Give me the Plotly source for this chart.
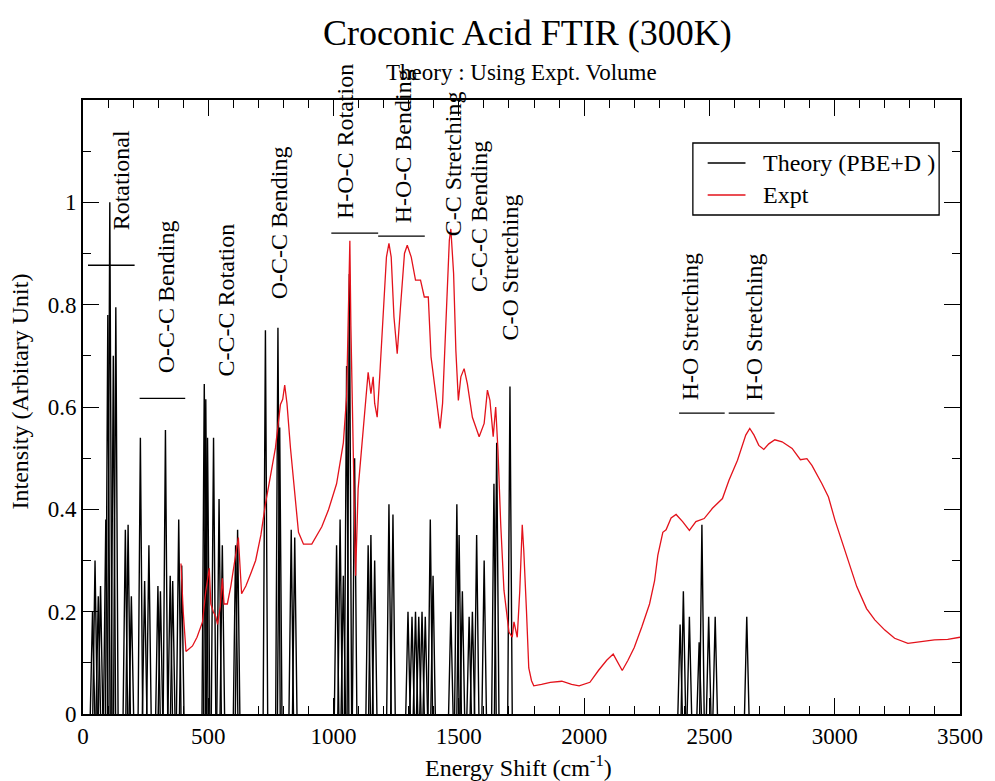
import plotly.graph_objects as go

# ---------------- data ----------------
# Calculated (PBE+D) mode positions (cm^-1) and relative intensities
theory_pos = [38, 48, 61, 70, 91, 99, 107, 121, 131, 169, 180, 193,
              229, 246, 263, 299, 309, 329, 348, 358, 382, 394,
              484, 490, 497, 521, 543, 556, 609, 617,
              728, 778, 785, 831, 845,
              1012, 1026, 1039, 1052, 1063, 1084, 1138, 1149, 1164,
              1221, 1237, 1297, 1313, 1327, 1340, 1353, 1366, 1386, 1397,
              1468, 1492, 1501, 1514, 1541, 1554, 1571, 1601, 1640, 1651, 1704,
              2383, 2396, 2420, 2459, 2470, 2497, 2523, 2649]
theory_int = [0.20, 0.30, 0.23, 0.25, 0.38, 0.78, 1.00, 0.70, 0.795, 0.36, 0.37, 0.23,
              0.54, 0.26, 0.33, 0.25, 0.24, 0.555, 0.27, 0.26, 0.38, 0.29,
              0.645, 0.615, 0.54, 0.54, 0.42, 0.33, 0.33, 0.36,
              0.75, 0.755, 0.56, 0.36, 0.345,
              0.33, 0.38, 0.27, 0.68, 0.86, 0.50, 0.33, 0.35, 0.30,
              0.41, 0.39, 0.20, 0.19, 0.20, 0.19, 0.20, 0.19, 0.38, 0.27,
              0.20, 0.41, 0.35, 0.24, 0.19, 0.20, 0.35, 0.30, 0.45, 0.53, 0.64,
              0.175, 0.24, 0.19, 0.14, 0.37, 0.19, 0.19, 0.19]

# Measured FTIR spectrum
expt_x = [391, 400, 411, 425, 437, 455, 477, 490, 504, 510, 520, 530, 537, 548, 556,
          563, 576, 590, 609, 620, 633, 650, 670, 689, 710, 728, 748, 768, 788, 797,
          805, 814, 828, 841, 860, 880, 913, 953, 979, 1012, 1039, 1052, 1058, 1065,
          1069, 1078, 1088, 1098, 1118, 1138, 1149, 1158, 1164, 1174, 1184, 1197, 1211,
          1221, 1230, 1241, 1254, 1267, 1283, 1294, 1310, 1327, 1347, 1362, 1378, 1389,
          1409, 1425, 1435, 1448, 1462, 1468, 1479, 1488, 1498, 1508, 1521, 1534, 1554,
          1581, 1601, 1614, 1624, 1637, 1647, 1656, 1667, 1680, 1700, 1713, 1720, 1733,
          1743, 1753, 1759, 1770, 1779, 1790, 1799, 1830, 1865, 1911, 1950, 1980, 2023,
          2057, 2090, 2116, 2136, 2152, 2175, 2200, 2230, 2261, 2281, 2294, 2314, 2327,
          2347, 2367, 2393, 2420, 2446, 2479, 2512, 2552, 2578, 2612, 2645, 2661, 2678,
          2697, 2717, 2737, 2761, 2790, 2830, 2863, 2889, 2909, 2949, 2975, 3001, 3028,
          3054, 3088, 3127, 3160, 3200, 3239, 3292, 3345, 3398, 3451, 3500]
expt_y = [0.294, 0.200, 0.122, 0.127, 0.133, 0.150, 0.180, 0.240, 0.285, 0.215, 0.200,
          0.190, 0.175, 0.210, 0.265, 0.215, 0.215, 0.250, 0.305, 0.345, 0.235, 0.250,
          0.275, 0.300, 0.350, 0.410, 0.465, 0.520, 0.605, 0.615, 0.643, 0.607, 0.520,
          0.450, 0.355, 0.332, 0.332, 0.366, 0.398, 0.450, 0.530, 0.620, 0.750, 0.925,
          0.760, 0.500, 0.270, 0.440, 0.548, 0.668, 0.626, 0.659, 0.607, 0.580, 0.659,
          0.776, 0.893, 0.920, 0.893, 0.776, 0.704, 0.795, 0.900, 0.916, 0.893, 0.848,
          0.848, 0.815, 0.815, 0.698, 0.620, 0.558, 0.607, 0.763, 0.926, 0.948, 0.861,
          0.711, 0.613, 0.659, 0.675, 0.645, 0.580, 0.542, 0.568, 0.633, 0.613, 0.542,
          0.600, 0.516, 0.372, 0.242, 0.160, 0.150, 0.180, 0.150, 0.240, 0.370, 0.320,
          0.200, 0.090, 0.065, 0.055, 0.058, 0.062, 0.064, 0.058, 0.055, 0.062, 0.085,
          0.105, 0.117, 0.100, 0.085, 0.105, 0.130, 0.170, 0.215, 0.260, 0.310, 0.355,
          0.360, 0.383, 0.390, 0.376, 0.359, 0.376, 0.382, 0.402, 0.421, 0.457, 0.496,
          0.545, 0.558, 0.545, 0.525, 0.517, 0.528, 0.536, 0.532, 0.519, 0.497, 0.499,
          0.486, 0.450, 0.424, 0.379, 0.340, 0.301, 0.249, 0.206, 0.184, 0.164, 0.148,
          0.138, 0.141, 0.145, 0.146, 0.150]

# Mode-assignment labels: text, centre (cm^-1), bottom of text (intensity units)
label_text = ["Rotational", "O-C-C Bending", "C-C-C Rotation", "O-C-C Bending",
              "H-O-C Rotation", "H-O-C Bending", "C-C Stretching", "C-C-C Bending",
              "C-O Stretching", "H-O Stretching", "H-O Stretching"]
label_x = [151, 329, 569, 781, 1043, 1277, 1475, 1581, 1706, 2424, 2677]
label_y = [0.941, 0.662, 0.656, 0.807, 0.963, 0.955, 0.930, 0.820, 0.727, 0.609, 0.609]

# Horizontal bars marking each assigned range: x0, x1, level
bar_x0 = [20, 226, 991, 1178, 2379, 2577]
bar_x1 = [206, 408, 1178, 1364, 2561, 2760]
bar_y = [0.877, 0.617, 0.940, 0.934, 0.588, 0.588]

x_ticks = [0, 500, 1000, 1500, 2000, 2500, 3000, 3500]
y_ticks = [0, 0.2, 0.4, 0.6, 0.8, 1.0]
y_tick_text = ["0", "0.2", "0.4", "0.6", "0.8", "1"]

# ---------------- figure ----------------
FONT = "Liberation Serif"
RED = "#e3121b"
HALF_BASE = 9  # half width of each calculated line at its base, cm^-1

th_x, th_y = [], []
for p, h in sorted(zip(theory_pos, theory_int)):
    th_x += [p - HALF_BASE, p, p + HALF_BASE, None]
    th_y += [0, h, 0, None]

fig = go.Figure()
fig.add_trace(go.Scatter(x=th_x, y=th_y, mode="lines", name="Theory (PBE+D )",
                         line=dict(color="black", width=1.4), showlegend=False))
fig.add_trace(go.Scatter(x=expt_x, y=expt_y, mode="lines", name="Expt",
                         line=dict(color=RED, width=1.3), showlegend=False))

for x0, x1, y in zip(bar_x0, bar_x1, bar_y):
    fig.add_shape(type="line", xref="x", yref="y", x0=x0, x1=x1, y0=y, y1=y,
                  line=dict(color="black", width=1.3))

for t, x, y in zip(label_text, label_x, label_y):
    fig.add_annotation(text=t, x=x, y=y, xref="x", yref="y", textangle=-90,
                       xanchor="center", yanchor="bottom", showarrow=False,
                       font=dict(family=FONT, size=24, color="black"))

# legend box
fig.add_shape(type="rect", xref="paper", yref="paper", x0=0.6954, x1=0.9762,
              y0=0.8127, y1=0.930, line=dict(color="black", width=1.3),
              fillcolor="white", layer="above")
for yy, col, name in [(0.8974, "black", "Theory (PBE+D )"), (0.8453, RED, "Expt")]:
    fig.add_shape(type="line", xref="paper", yref="paper", x0=0.7123, x1=0.7554,
                  y0=yy, y1=yy, line=dict(color=col, width=1.4), layer="above")
    fig.add_annotation(text=name, x=0.7735, y=yy, xref="paper", yref="paper",
                       xanchor="left", yanchor="middle", showarrow=False,
                       font=dict(family=FONT, size=24, color="black"))

# subtitle and axis titles
fig.add_annotation(text="Theory : Using Expt. Volume", x=0.5, y=1.0456,
                   xref="paper", yref="paper", xanchor="center", yanchor="middle",
                   showarrow=False, font=dict(family=FONT, size=23, color="black"))
fig.add_annotation(text="Energy Shift (cm<sup>-1</sup>)", x=0.497, y=-0.085,
                   xref="paper", yref="paper", xanchor="center", yanchor="middle",
                   showarrow=False, font=dict(family=FONT, size=24, color="black"))
fig.add_annotation(text="Intensity (Arbitary Unit)", x=-0.0713, y=0.526,
                   xref="paper", yref="paper", xanchor="center", yanchor="middle",
                   textangle=-90, showarrow=False,
                   font=dict(family=FONT, size=24, color="black"))

axis_common = dict(showline=True, linecolor="black", linewidth=1.8, mirror="allticks",
                   ticks="inside", ticklen=16, tickwidth=1.4, tickcolor="black",
                   showgrid=False, zeroline=False,
                   tickfont=dict(family=FONT, size=23, color="black"))

fig.update_xaxes(range=[0, 3500], tickvals=x_ticks,
                 minor=dict(dtick=100, ticks="inside", ticklen=8, tickwidth=1.2,
                            tickcolor="black", showgrid=False),
                 **axis_common)
fig.update_yaxes(range=[0, 1.2], tickvals=y_ticks, ticktext=y_tick_text,
                 minor=dict(dtick=0.1, ticks="inside", ticklen=8, tickwidth=1.2,
                            tickcolor="black", showgrid=False),
                 **axis_common)

fig.update_layout(
    width=995, height=781,
    margin=dict(l=83, r=29, t=100, b=67),
    paper_bgcolor="white", plot_bgcolor="white",
    title=dict(text="Croconic Acid FTIR (300K)", x=0.53, xanchor="center",
               y=0.959, yanchor="middle",
               font=dict(family=FONT, size=36, color="black")),
    showlegend=False,
)

fig.write_html("out.html")
